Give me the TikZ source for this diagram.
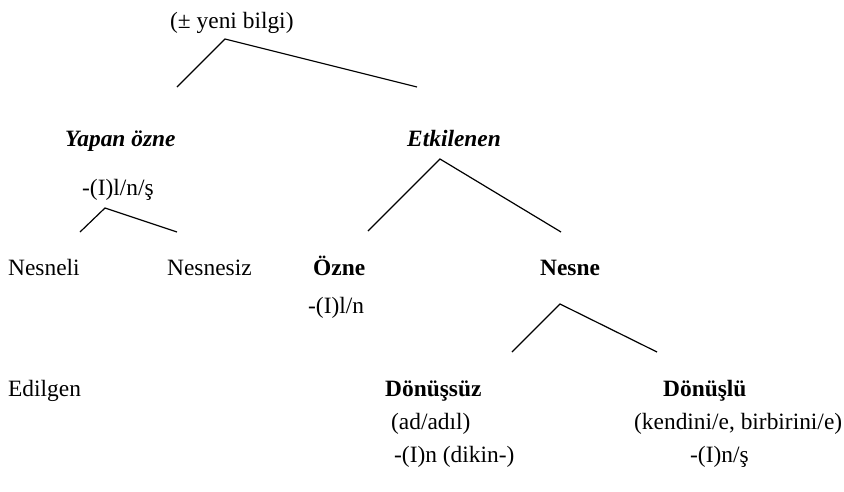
\documentclass[tikz,border=0pt]{standalone}
\usepackage{fontspec}
\setmainfont{Liberation Serif}
\usepackage{tikz}

\begin{document}
\begin{tikzpicture}[
x=1pt, y=-1pt,
every node/.style={anchor=base west, inner sep=0pt, font=\fontsize{23.4}{28}\selectfont},
role/.style={font=\fontsize{23.4}{28}\selectfont\bfseries\itshape},
term/.style={font=\fontsize{23.4}{28}\selectfont\bfseries},
branch/.style={draw, line width=1.2pt, line join=miter}
]
\useasboundingbox (0,0) rectangle (844,491);

\node (bilgi) at (170,28) {(\textpm{} yeni bilgi)};

\node[role] (yapan) at (65,146) {Yapan özne};
\node[role] (etki) at (407,146) {Etkilenen};
\node (yapanek) at (82,195) {-(I)l/n/ş};

\node (nesneli) at (8,275) {Nesneli};
\node (nesnesiz) at (167,275) {Nesnesiz};
\node[term] (ozne) at (313,275) {Özne};
\node[term] (nesne) at (540,275) {Nesne};
\node (ozneek) at (308,313) {-(I)l/n};

\node (edilgen) at (8,396) {Edilgen};
\node[term] (donussuz) at (385,396) {Dönüşsüz};
\node[term] (donuslu) at (663,396) {Dönüşlü};
\node (adadil) at (391,429) {(ad/adıl)};
\node (kendini) at (634,429) {(kendini/e, birbirini/e)};
\node (dikin) at (394,462) {-(I)n (dikin-)};
\node (donusluek) at (690,462) {-(I)n/ş};

% branch points
\coordinate (bilgi-v) at (225,39);
\coordinate (bilgi-l) at (177,87);
\coordinate (bilgi-r) at (417,87);
\coordinate (yapan-v) at (105,208);
\coordinate (yapan-l) at (80,232);
\coordinate (yapan-r) at (177,232);
\coordinate (etki-v) at (440,159);
\coordinate (etki-l) at (368,231);
\coordinate (etki-r) at (561,232);
\coordinate (nesne-v) at (560,304);
\coordinate (nesne-l) at (512,352);
\coordinate (nesne-r) at (657,352);

\path[branch] (bilgi-l) -- (bilgi-v) -- (bilgi-r);
\path[branch] (yapan-l) -- (yapan-v) -- (yapan-r);
\path[branch] (etki-l) -- (etki-v) -- (etki-r);
\path[branch] (nesne-l) -- (nesne-v) -- (nesne-r);
\end{tikzpicture}
\end{document}
